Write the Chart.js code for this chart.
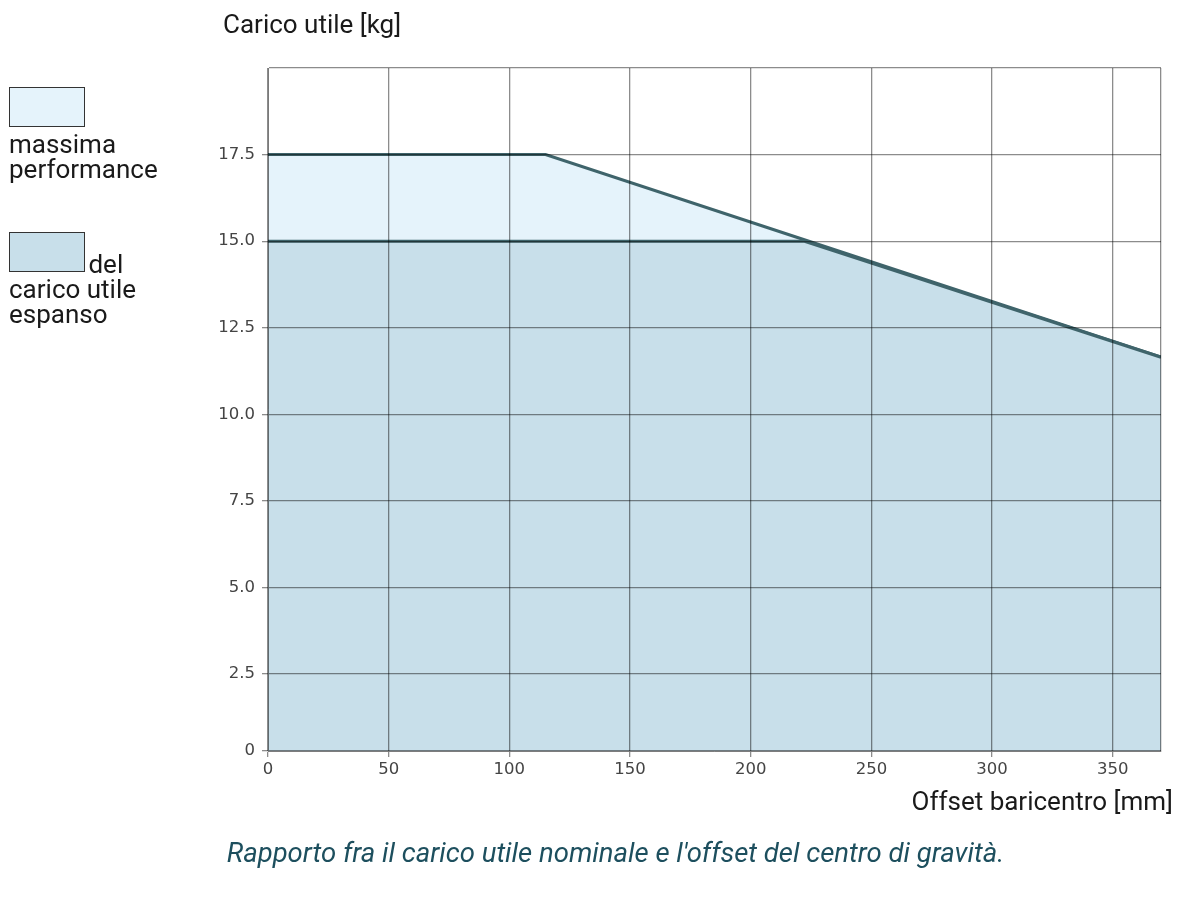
<!DOCTYPE html>
<html lang="it">
<head>
<meta charset="UTF-8">
<title>Carico utile / offset baricentro</title>
<script src="https://cdn.jsdelivr.net/npm/chart.js@4.4.1/dist/chart.umd.min.js"></script>
<style>
  html, body { margin: 0; padding: 0; background: #fff; }
  body {
    width: 1185px; height: 897px; position: relative; overflow: hidden;
    font-family: Roboto, "Liberation Sans", sans-serif; color: #1a1a1a;
  }
  #wrap { position: absolute; left: 0; top: 0; width: 1185px; height: 897px; }
  .testo { position: absolute; z-index: 2; font-size: 26px; line-height: 28px; white-space: nowrap; }
  #titoloY { left: 223px; top: 10px; }
  #titoloX { right: 12px; top: 787px; }
  #didascalia { left: 0; width: 1231px; text-align: center; top: 839px; font-size: 27.5px; font-style: italic; color: #1d4f5e; }
  /* legenda a sinistra, fatta in html */
  #legenda { position: absolute; z-index: 2; left: 9px; top: 87px; width: 160px; font-size: 26px; line-height: 25px; }
  .voce { margin-bottom: 50px; }
  .campione { display: inline-block; width: 74px; height: 38px; border: 1px solid #333; margin-right: -3px; vertical-align: 1px; }
</style>
</head>
<body>
<div id="wrap"><canvas id="grafico"></canvas></div>
<div id="legenda"></div>
<div class="testo" id="titoloY">Carico utile [kg]</div>
<div class="testo" id="titoloX">Offset baricentro [mm]</div>
<div class="testo" id="didascalia">Rapporto fra il carico utile nominale e l'offset del centro di gravità.</div>

<script>
// dati
const etichetteSerie = ['massima performance', 'del carico utile espanso'];
const offsetMassima = [0, 115, 370];
const caricoMassima = [17.5, 17.5, 11.65];
const offsetEspanso = [0, 222, 370];
const caricoEspanso = [15.0, 15.0, 11.65];

const tickX = [0, 50, 100, 150, 200, 250, 300, 350];
const tickY = [0, 2.5, 5, 7.5, 10, 12.5, 15, 17.5];
const xMax = 370;
const yMin = 0.28; // nel disegno lo zero sta un po' piu' in alto del passo regolare
const yMax = 20;

const coloreLinea = '#3f646b';
const coloriRiempimento = ['#e5f3fb', '#c8dfea'];

function punti(xs, ys) {
    return xs.map((x, i) => ({ x: x, y: ys[i] }));
}

const grigliaColore = 'rgba(0, 0, 0, 0.45)';

const chart = new Chart(document.getElementById('grafico'), {
    type: 'line',
    data: {
        datasets: [
            {
                label: etichetteSerie[0],
                data: punti(offsetMassima, caricoMassima),
                borderColor: coloreLinea,
                borderWidth: 3,
                backgroundColor: coloriRiempimento[0],
                fill: 'start',
                pointRadius: 0,
                tension: 0,
                order: 1
            },
            {
                label: etichetteSerie[1],
                data: punti(offsetEspanso, caricoEspanso),
                borderColor: coloreLinea,
                borderWidth: 3,
                backgroundColor: coloriRiempimento[1],
                fill: 'start',
                pointRadius: 0,
                tension: 0,
                order: 0
            }
        ]
    },
    options: {
        responsive: true,
        maintainAspectRatio: false,
        animation: false,
        layout: { padding: { top: 68, right: 24, left: 0, bottom: 0 } },
        plugins: {
            legend: { display: false },
            tooltip: { enabled: false }
        },
        scales: {
            x: {
                type: 'linear',
                min: 0,
                max: xMax,
                afterBuildTicks: s => { s.ticks = tickX.concat([xMax]).map(v => ({ value: v })); },
                afterFit: s => { s.height = 146; },
                border: { display: true, color: grigliaColore, width: 1, z: 1 },
                grid: {
                    z: 1, // griglia sopra le aree
                    color: grigliaColore,
                    lineWidth: 1.3,
                    tickLength: 6,
                    tickColor: ctx => (ctx.tick && ctx.tick.value === xMax) ? 'rgba(0,0,0,0)' : grigliaColore
                },
                ticks: {
                    autoSkip: false,
                    maxRotation: 0,
                    padding: 3,
                    color: '#444',
                    font: { family: 'DejaVu Sans', size: 16.5 },
                    callback: v => v === xMax ? '' : String(v)
                }
            },
            y: {
                type: 'linear',
                min: yMin,
                max: yMax,
                afterBuildTicks: s => {
                    s.ticks = tickY.map(v => ({ value: Math.max(v, yMin) })).concat([{ value: yMax }]);
                },
                afterFit: s => { s.width = 268; },
                border: { display: true, color: grigliaColore, width: 1, z: 1 },
                grid: {
                    z: 1,
                    color: grigliaColore,
                    lineWidth: 1.3,
                    tickLength: 6,
                    tickColor: ctx => (ctx.tick && ctx.tick.value === yMax) ? 'rgba(0,0,0,0)' : grigliaColore
                },
                ticks: {
                    autoSkip: false,
                    padding: 7,
                    color: '#444',
                    font: { family: 'DejaVu Sans', size: 16.5 },
                    callback: function (v, i) {
                        const t = tickY[i];
                        return t === undefined ? '' : (t === 0 ? '0' : t.toFixed(1));
                    }
                }
            }
        }
    }
});

// legenda html dai dataset
const legenda = document.getElementById('legenda');
chart.data.datasets.forEach(ds => {
    const voce = document.createElement('div');
    voce.className = 'voce';
    const box = document.createElement('span');
    box.className = 'campione';
    box.style.background = ds.backgroundColor;
    voce.appendChild(box);
    voce.appendChild(document.createTextNode(' ' + ds.label));
    legenda.appendChild(voce);
});
</script>
</body>
</html>
